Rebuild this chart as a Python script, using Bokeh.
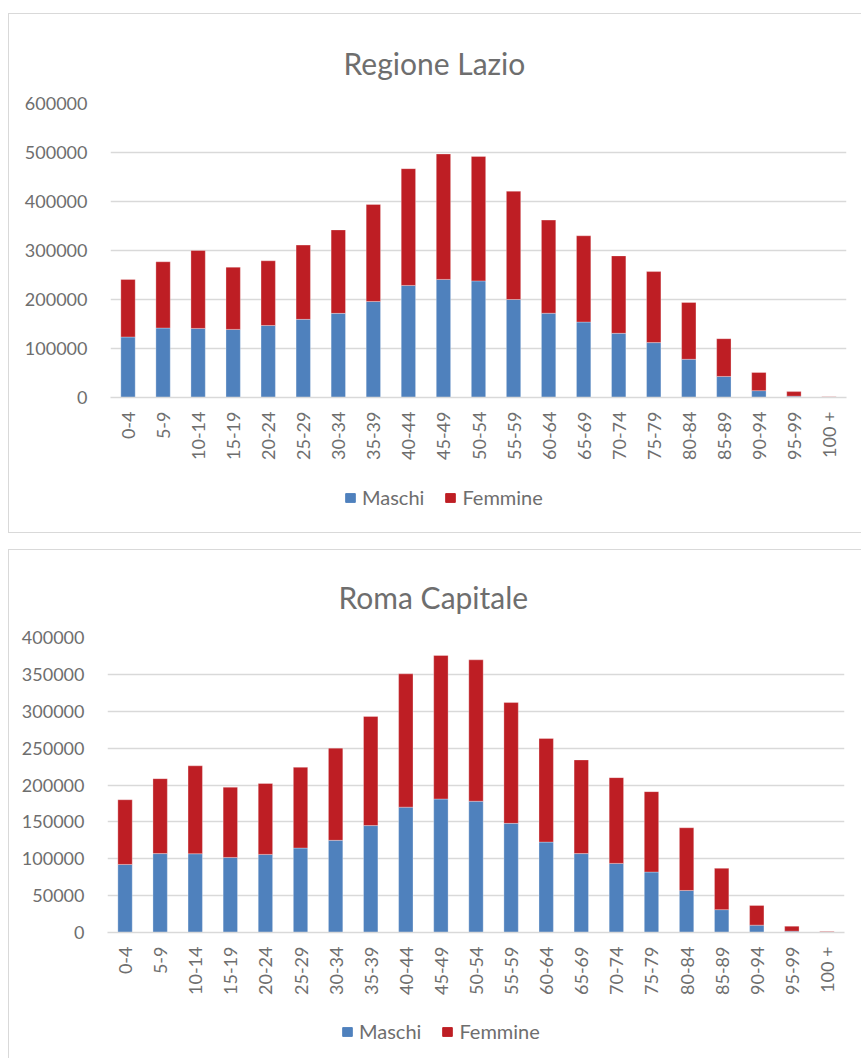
from math import pi
from bokeh.plotting import figure
from bokeh.layouts import column, row
from bokeh.models import FactorRange, Range1d, Legend, LegendItem, NumeralTickFormatter, FixedTicker, Spacer
from bokeh.embed import file_html
from bokeh.resources import INLINE

categories = ["0-4", "5-9", "10-14", "15-19", "20-24", "25-29", "30-34", "35-39", "40-44",
              "45-49", "50-54", "55-59", "60-64", "65-69", "70-74", "75-79", "80-84",
              "85-89", "90-94", "95-99", "100 +"]

lazio_maschi = [123500, 141800, 141000, 139000, 147000, 159500, 171700, 196000, 228700,
                241000, 238000, 200000, 172000, 154000, 131000, 112000, 78000,
                43000, 14000, 2700, 300]
lazio_femmine = [117500, 135200, 159000, 127000, 132000, 151500, 170300, 198000, 238300,
                 256000, 254000, 221000, 190000, 176000, 158000, 145000, 116000,
                 77000, 37000, 9300, 1100]

roma_maschi = [92300, 107000, 106800, 101800, 105900, 114500, 125000, 145000, 170000,
               181000, 178000, 148000, 122600, 107000, 93700, 82000, 57000,
               31000, 10000, 1800, 250]
roma_femmine = [87700, 101600, 119200, 95200, 96100, 109500, 125000, 148000, 180700,
                194600, 191700, 163800, 140400, 127000, 116300, 109000, 85000,
                56000, 26700, 6800, 950]

series_names = ["Maschi", "Femmine"]
colors = ["#4F81BD", "#BE1E24"]
FONT = "Lato"
TXT = "#6E6E6E"
GRID = "#D9D9D9"


def make_chart(title, maschi, femmine, ymax, ystep, height, left, right, top, bottom, t_off):
    p = figure(x_range=FactorRange(*categories, range_padding=0),
               y_range=Range1d(0, ymax),
               width=852, height=height, output_backend="svg", toolbar_location=None,
               min_border_left=left, min_border_right=right, min_border_top=top,
               min_border_bottom=bottom, outline_line_color=None)
    data = {"cat": categories, "Maschi": maschi, "Femmine": femmine}
    p.vbar_stack(series_names, x="cat", width=0.41, color=colors, source=data,
                 line_color="white", line_width=0.5, line_alpha=0.6)
    p.title.text = title
    p.title.align = "left"
    p.title.offset = t_off
    p.title.text_font = FONT
    p.title.text_font_size = "30px"
    p.title.text_color = TXT
    p.title.text_font_style = "normal"
    p.title.standoff = 46

    p.xgrid.grid_line_color = None
    p.ygrid.grid_line_color = GRID
    p.ygrid.grid_line_width = 1.3
    p.yaxis.ticker = FixedTicker(ticks=list(range(0, ymax + 1, ystep)))
    p.yaxis.formatter = NumeralTickFormatter(format="0")
    p.yaxis.axis_line_color = None
    p.yaxis.major_tick_line_color = None
    p.yaxis.minor_tick_line_color = None
    p.yaxis.major_label_standoff = 17
    p.yaxis.major_label_text_font = FONT
    p.yaxis.major_label_text_font_size = "18px"
    p.yaxis.major_label_text_color = TXT

    p.xaxis.axis_line_color = GRID
    p.xaxis.axis_line_width = 1.3
    p.xaxis.major_tick_line_color = None
    p.xaxis.minor_tick_line_color = None
    p.xaxis.major_label_orientation = pi / 2
    p.xaxis.major_label_standoff = 8
    p.xaxis.major_label_text_font = FONT
    p.xaxis.major_label_text_font_size = "18px"
    p.xaxis.major_label_text_color = TXT
    return p


def make_legend(maschi, femmine, height, leg_x, leg_y):
    lf = figure(x_range=FactorRange(*categories, range_padding=0), y_range=Range1d(1e9, 2e9),
                width=852, height=height, output_backend="svg", toolbar_location=None,
                min_border=0, outline_line_color=None)
    lf.axis.visible = False
    lf.grid.visible = False
    data = {"cat": categories, "Maschi": maschi, "Femmine": femmine}
    rs = lf.vbar_stack(series_names, x="cat", width=0.41, color=colors, source=data)
    legend = Legend(items=[LegendItem(label=n, renderers=[r]) for n, r in zip(series_names, rs)],
                    orientation="horizontal", location=(leg_x, leg_y),
                    label_text_font=FONT, label_text_font_size="20px", label_text_color=TXT,
                    glyph_width=12, glyph_height=11, spacing=20, label_standoff=6,
                    border_line_color=None, background_fill_alpha=0, padding=4, margin=0)
    lf.add_layout(legend, "center")
    return lf


p1 = make_chart("Regione Lazio", lazio_maschi, lazio_femmine, 600000, 100000,
                456, 101, 15, 89, 73, 233)
l1 = make_legend(lazio_maschi, lazio_femmine, 62, 234, 23)
p2 = make_chart("Roma Capitale", roma_maschi, roma_femmine, 400000, 50000,
                455, 98, 17, 87, 73, 231)
l2 = make_legend(roma_maschi, roma_femmine, 53, 234, 15)

box1 = column(p1, l1, spacing=0,
              styles={"border-top": "1px solid #D9D9D9", "border-left": "1px solid #D9D9D9",
                      "border-bottom": "1px solid #D9D9D9"})
box2 = column(p2, l2, spacing=0,
              styles={"border-top": "1px solid #D9D9D9", "border-left": "1px solid #D9D9D9"})

layout = column(Spacer(width=860, height=13), row(Spacer(width=8, height=10), box1),
                Spacer(width=860, height=16), row(Spacer(width=8, height=10), box2))
open("out.html", "w").write(file_html(layout, INLINE))
